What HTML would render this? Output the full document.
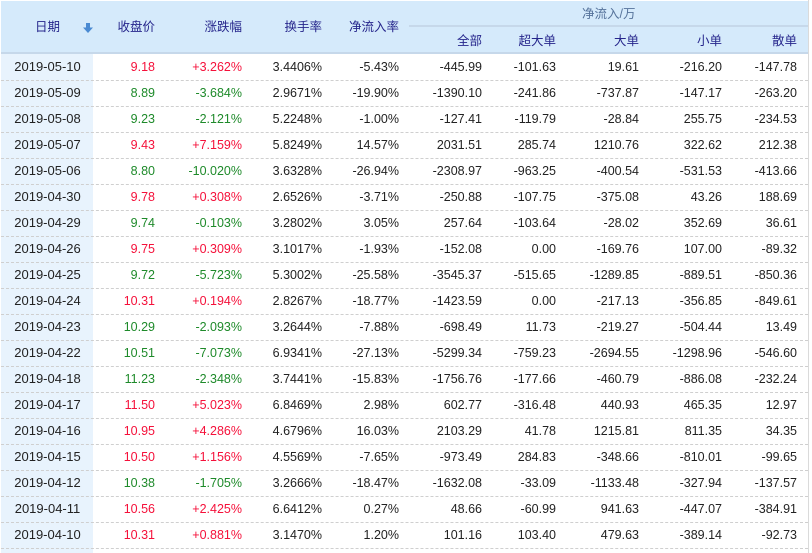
<!DOCTYPE html>
<html><head><meta charset="utf-8">
<style>
*{margin:0;padding:0;box-sizing:border-box}
html,body{width:812px;height:553px;background:#fff;overflow:hidden}
body{position:relative;font-family:"Liberation Sans","Noto Sans CJK SC",sans-serif;color:#222}
.hd{position:absolute;left:1px;top:1px;width:807px;height:51px;background:#d5eafb}
.hb{position:absolute;left:1px;top:52px;width:807px;height:2px;background:#c6d8ea}
.sub{position:absolute;left:409px;top:25px;width:399px;height:2px;background:#c6d8ea}
.dc{position:absolute;left:1px;top:54px;width:92px;height:499px;background:#e8f3fd}
.vr{position:absolute;left:808px;top:0;width:1px;height:553px;background:#dadada}
.h{position:absolute;font-size:12.5px;color:#26268c;line-height:20px;white-space:nowrap}
.r{position:absolute;left:1px;width:807px;height:27px;border-bottom:1px dashed #cfcfcf}
.r span{position:absolute;top:0;line-height:26px;font-size:12.5px;white-space:nowrap;text-align:right}
.r span.d{left:0;width:93px;text-align:center;font-size:13px}
.up{color:#f5103a}
.dn{color:#1e8a2a}
.arrow{position:absolute;left:83px;top:23px;width:10px;height:10px}
</style></head><body>
<div class="hd"></div>
<div class="hb"></div>
<div class="sub"></div>
<div class="dc"></div>
<div class="vr"></div>

<div class="h" style="left:35px;top:17px">日期</div>
<svg class="arrow" viewBox="0 0 10 10"><rect x="3" y="0" width="4" height="5" fill="#4a8ad2"/><polygon points="0,4.5 10,4.5 5,10" fill="#4a8ad2"/></svg>
<div class="h" style="right:657px;top:17px">收盘价</div>
<div class="h" style="right:570px;top:17px">涨跌幅</div>
<div class="h" style="right:490px;top:17px">换手率</div>
<div class="h" style="right:413px;top:17px">净流入率</div>
<div class="h" style="left:582px;top:4px;color:#56739b">净流入/万</div>
<div class="h" style="right:330px;top:31px">全部</div>
<div class="h" style="right:256px;top:31px">超大单</div>
<div class="h" style="right:173px;top:31px">大单</div>
<div class="h" style="right:90px;top:31px">小单</div>
<div class="h" style="right:15px;top:31px">散单</div>

<div id="rows"></div>

<div class="r" style="top:54px"><span class="d">2019-05-10</span><span class="up" style="right:653px">9.18</span><span class="up" style="right:566px">+3.262%</span><span style="right:486px">3.4406%</span><span style="right:409px">-5.43%</span><span style="right:326px">-445.99</span><span style="right:252px">-101.63</span><span style="right:169px">19.61</span><span style="right:86px">-216.20</span><span style="right:11px">-147.78</span></div>
<div class="r" style="top:80px"><span class="d">2019-05-09</span><span class="dn" style="right:653px">8.89</span><span class="dn" style="right:566px">-3.684%</span><span style="right:486px">2.9671%</span><span style="right:409px">-19.90%</span><span style="right:326px">-1390.10</span><span style="right:252px">-241.86</span><span style="right:169px">-737.87</span><span style="right:86px">-147.17</span><span style="right:11px">-263.20</span></div>
<div class="r" style="top:106px"><span class="d">2019-05-08</span><span class="dn" style="right:653px">9.23</span><span class="dn" style="right:566px">-2.121%</span><span style="right:486px">5.2248%</span><span style="right:409px">-1.00%</span><span style="right:326px">-127.41</span><span style="right:252px">-119.79</span><span style="right:169px">-28.84</span><span style="right:86px">255.75</span><span style="right:11px">-234.53</span></div>
<div class="r" style="top:132px"><span class="d">2019-05-07</span><span class="up" style="right:653px">9.43</span><span class="up" style="right:566px">+7.159%</span><span style="right:486px">5.8249%</span><span style="right:409px">14.57%</span><span style="right:326px">2031.51</span><span style="right:252px">285.74</span><span style="right:169px">1210.76</span><span style="right:86px">322.62</span><span style="right:11px">212.38</span></div>
<div class="r" style="top:158px"><span class="d">2019-05-06</span><span class="dn" style="right:653px">8.80</span><span class="dn" style="right:566px">-10.020%</span><span style="right:486px">3.6328%</span><span style="right:409px">-26.94%</span><span style="right:326px">-2308.97</span><span style="right:252px">-963.25</span><span style="right:169px">-400.54</span><span style="right:86px">-531.53</span><span style="right:11px">-413.66</span></div>
<div class="r" style="top:184px"><span class="d">2019-04-30</span><span class="up" style="right:653px">9.78</span><span class="up" style="right:566px">+0.308%</span><span style="right:486px">2.6526%</span><span style="right:409px">-3.71%</span><span style="right:326px">-250.88</span><span style="right:252px">-107.75</span><span style="right:169px">-375.08</span><span style="right:86px">43.26</span><span style="right:11px">188.69</span></div>
<div class="r" style="top:210px"><span class="d">2019-04-29</span><span class="dn" style="right:653px">9.74</span><span class="dn" style="right:566px">-0.103%</span><span style="right:486px">3.2802%</span><span style="right:409px">3.05%</span><span style="right:326px">257.64</span><span style="right:252px">-103.64</span><span style="right:169px">-28.02</span><span style="right:86px">352.69</span><span style="right:11px">36.61</span></div>
<div class="r" style="top:236px"><span class="d">2019-04-26</span><span class="up" style="right:653px">9.75</span><span class="up" style="right:566px">+0.309%</span><span style="right:486px">3.1017%</span><span style="right:409px">-1.93%</span><span style="right:326px">-152.08</span><span style="right:252px">0.00</span><span style="right:169px">-169.76</span><span style="right:86px">107.00</span><span style="right:11px">-89.32</span></div>
<div class="r" style="top:262px"><span class="d">2019-04-25</span><span class="dn" style="right:653px">9.72</span><span class="dn" style="right:566px">-5.723%</span><span style="right:486px">5.3002%</span><span style="right:409px">-25.58%</span><span style="right:326px">-3545.37</span><span style="right:252px">-515.65</span><span style="right:169px">-1289.85</span><span style="right:86px">-889.51</span><span style="right:11px">-850.36</span></div>
<div class="r" style="top:288px"><span class="d">2019-04-24</span><span class="up" style="right:653px">10.31</span><span class="up" style="right:566px">+0.194%</span><span style="right:486px">2.8267%</span><span style="right:409px">-18.77%</span><span style="right:326px">-1423.59</span><span style="right:252px">0.00</span><span style="right:169px">-217.13</span><span style="right:86px">-356.85</span><span style="right:11px">-849.61</span></div>
<div class="r" style="top:314px"><span class="d">2019-04-23</span><span class="dn" style="right:653px">10.29</span><span class="dn" style="right:566px">-2.093%</span><span style="right:486px">3.2644%</span><span style="right:409px">-7.88%</span><span style="right:326px">-698.49</span><span style="right:252px">11.73</span><span style="right:169px">-219.27</span><span style="right:86px">-504.44</span><span style="right:11px">13.49</span></div>
<div class="r" style="top:340px"><span class="d">2019-04-22</span><span class="dn" style="right:653px">10.51</span><span class="dn" style="right:566px">-7.073%</span><span style="right:486px">6.9341%</span><span style="right:409px">-27.13%</span><span style="right:326px">-5299.34</span><span style="right:252px">-759.23</span><span style="right:169px">-2694.55</span><span style="right:86px">-1298.96</span><span style="right:11px">-546.60</span></div>
<div class="r" style="top:366px"><span class="d">2019-04-18</span><span class="dn" style="right:653px">11.23</span><span class="dn" style="right:566px">-2.348%</span><span style="right:486px">3.7441%</span><span style="right:409px">-15.83%</span><span style="right:326px">-1756.76</span><span style="right:252px">-177.66</span><span style="right:169px">-460.79</span><span style="right:86px">-886.08</span><span style="right:11px">-232.24</span></div>
<div class="r" style="top:392px"><span class="d">2019-04-17</span><span class="up" style="right:653px">11.50</span><span class="up" style="right:566px">+5.023%</span><span style="right:486px">6.8469%</span><span style="right:409px">2.98%</span><span style="right:326px">602.77</span><span style="right:252px">-316.48</span><span style="right:169px">440.93</span><span style="right:86px">465.35</span><span style="right:11px">12.97</span></div>
<div class="r" style="top:418px"><span class="d">2019-04-16</span><span class="up" style="right:653px">10.95</span><span class="up" style="right:566px">+4.286%</span><span style="right:486px">4.6796%</span><span style="right:409px">16.03%</span><span style="right:326px">2103.29</span><span style="right:252px">41.78</span><span style="right:169px">1215.81</span><span style="right:86px">811.35</span><span style="right:11px">34.35</span></div>
<div class="r" style="top:444px"><span class="d">2019-04-15</span><span class="up" style="right:653px">10.50</span><span class="up" style="right:566px">+1.156%</span><span style="right:486px">4.5569%</span><span style="right:409px">-7.65%</span><span style="right:326px">-973.49</span><span style="right:252px">284.83</span><span style="right:169px">-348.66</span><span style="right:86px">-810.01</span><span style="right:11px">-99.65</span></div>
<div class="r" style="top:470px"><span class="d">2019-04-12</span><span class="dn" style="right:653px">10.38</span><span class="dn" style="right:566px">-1.705%</span><span style="right:486px">3.2666%</span><span style="right:409px">-18.47%</span><span style="right:326px">-1632.08</span><span style="right:252px">-33.09</span><span style="right:169px">-1133.48</span><span style="right:86px">-327.94</span><span style="right:11px">-137.57</span></div>
<div class="r" style="top:496px"><span class="d">2019-04-11</span><span class="up" style="right:653px">10.56</span><span class="up" style="right:566px">+2.425%</span><span style="right:486px">6.6412%</span><span style="right:409px">0.27%</span><span style="right:326px">48.66</span><span style="right:252px">-60.99</span><span style="right:169px">941.63</span><span style="right:86px">-447.07</span><span style="right:11px">-384.91</span></div>
<div class="r" style="top:522px"><span class="d">2019-04-10</span><span class="up" style="right:653px">10.31</span><span class="up" style="right:566px">+0.881%</span><span style="right:486px">3.1470%</span><span style="right:409px">1.20%</span><span style="right:326px">101.16</span><span style="right:252px">103.40</span><span style="right:169px">479.63</span><span style="right:86px">-389.14</span><span style="right:11px">-92.73</span></div>
</body></html>
